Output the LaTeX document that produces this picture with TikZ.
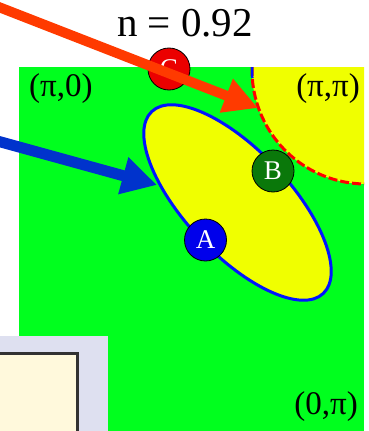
\documentclass[tikz,border=0pt]{standalone}
\usepackage{fontspec}
\setmainfont{Liberation Serif}
\usetikzlibrary{arrows.meta}
\definecolor{bzgreen}{RGB}{0,255,30}
\definecolor{fsyellow}{RGB}{240,255,0}
\definecolor{arrred}{RGB}{255,58,0}
\definecolor{arrblue}{RGB}{0,51,204}
\definecolor{ptblue}{RGB}{0,0,235}
\definecolor{ptgreen}{RGB}{10,120,10}
\definecolor{ptred}{RGB}{235,0,0}
\definecolor{fsblue}{RGB}{0,20,255}
\definecolor{boxlav}{RGB}{222,224,240}
\definecolor{boxcream}{RGB}{255,249,220}
\definecolor{boxedge}{RGB}{50,50,50}
\begin{document}
\begin{tikzpicture}[x=1pt,y=-1pt,
  kpoint/.style={circle, draw=black, line width=0.8pt, minimum size=42pt, inner sep=0pt, text=white, font=\fontsize{27}{27}\selectfont},
  klabel/.style={font=\fontsize{33}{35}\selectfont, inner sep=0pt},
  redarrow/.style={arrred, line width=10pt, -{Triangle[length=34pt,width=34pt]}},
  bluearrow/.style={arrblue, line width=11pt, -{Triangle[length=35pt,width=36pt]}},
]
\useasboundingbox (0,0) rectangle (368,431);
% Brillouin zone
\fill[bzgreen] (19,67) rectangle (364,431);
\begin{scope}
  \clip (19,67) rectangle (364,431);
  \fill[fsyellow] (366,70) circle[radius=114];
  \draw[red, line width=3pt, dash pattern=on 9pt off 3pt] (366,70) ++(181.5:114) arc[start angle=181.5, end angle=90, radius=114];
  \draw[fsblue, line width=2.5pt] (366,70) ++(181.5:114) arc[start angle=181.5, end angle=176, radius=114];
\end{scope}
% hole pocket
\filldraw[fill=fsyellow, draw=fsblue, line width=3pt, rotate around={-46.7:(237.5,202.5)}] (237.5,202.5) ellipse[x radius=125, y radius=52];
% labels
\node[klabel, anchor=west] (l1) at (29,89) {(π,0)};
\node[klabel, anchor=east] (l2) at (360,89) {(π,π)};
\node[klabel, anchor=east] (l3) at (358,407) {(0,π)};
% k points
\node[kpoint, fill=ptblue] (A) at (205.5,240) {A};
\node[kpoint, fill=ptgreen] (B) at (273,171) {B};
\node[kpoint, fill=ptred] (C) at (169,69) {C};
% arrows
\coordinate (redfrom) at (-10,3.6);
\coordinate (redto) at (258,108);
\draw[redarrow] (redfrom) -- (redto);
\coordinate (bluefrom) at (-10,139);
\coordinate (blueto) at (157,185);
\draw[bluearrow] (bluefrom) -- (blueto);
% box
\fill[boxlav] (0,336) rectangle (108,431);
\filldraw[fill=boxcream, draw=boxedge, line width=3pt] (-5,353.5) rectangle (77.5,440);
% title
\node[font=\fontsize{41}{41}\selectfont, anchor=base, inner sep=0pt] (nval) at (185,36) {n = 0.92};
\end{tikzpicture}
\end{document}
